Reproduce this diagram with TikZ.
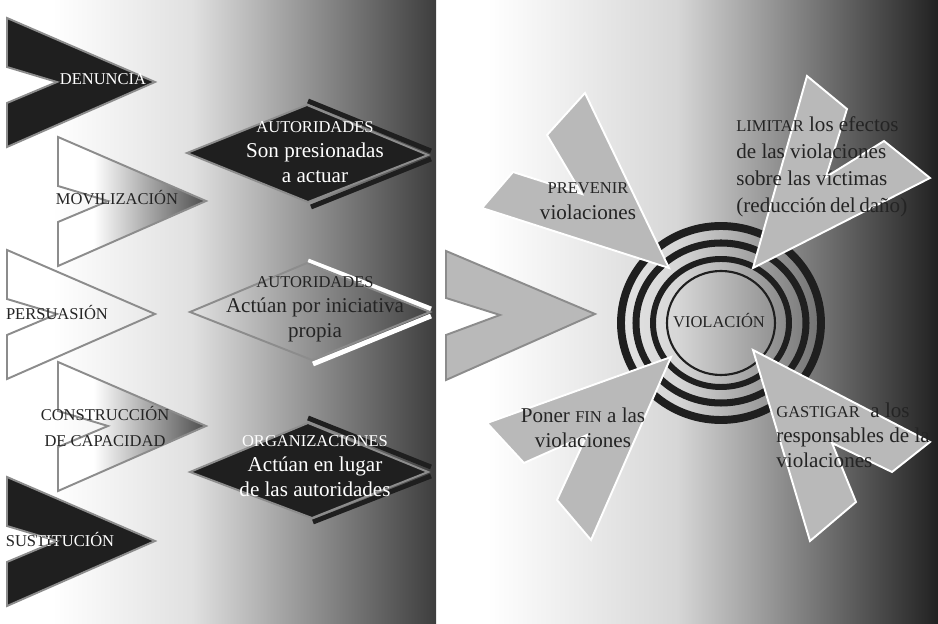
\documentclass[tikz,border=0pt]{standalone}
\usepackage{fontspec}
\setmainfont{Liberation Serif}
\definecolor{nightfill}{HTML}{1F1F1F}
\definecolor{edgegray}{HTML}{8C8C8C}
\definecolor{armgray}{HTML}{B9B9B9}
\definecolor{inkgray}{HTML}{242424}
\pgfdeclarehorizontalshading{panelleft}{100bp}{color(0bp)=(white); color(31bp)=(white); color(47bp)=(white!88!black); color(75bp)=(black!76); color(100bp)=(black!76)}
\pgfdeclarehorizontalshading{panelright}{100bp}{color(0bp)=(white); color(30bp)=(white); color(49bp)=(white!84!black); color(75bp)=(black!87); color(100bp)=(black!87)}
\pgfdeclarehorizontalshading{armshade}{100bp}{color(0bp)=(white); color(37bp)=(white); color(75bp)=(black!70); color(100bp)=(black!70)}
\newcommand{\capsm}[1]{{\fontsize{9.4}{11}\selectfont #1}}

\begin{document}
\begin{tikzpicture}[x=0.02cm, y=-0.02cm,
    chev/.style={draw=edgegray, line width=1.1pt},
    arm/.style={fill=armgray, draw=white, line width=1.1pt},
    lbl/.style={font=\fontsize{9.4}{15.3}\selectfont, inner sep=0pt, anchor=base, align=center},
    body/.style={font=\fontsize{12}{14.5}\selectfont, inner sep=0pt, anchor=base, align=center, text=inkgray},
    bar/.style={line width=2.8pt}]

    \useasboundingbox (0,0) rectangle (938,624);
    \shade[shading=panelleft] (0,0) rectangle (436,624);
    \shade[shading=panelright] (437,0) rectangle (938,624);

    \draw[chev, fill=nightfill, shift={(7,18)}] (0,0) -- (148,64) -- (0,129) -- (0,85) -- (50,64) -- (0,49) -- cycle;
    \shadedraw[chev, shading=armshade, shift={(58,137)}] (0,0) -- (148,64) -- (0,129) -- (0,85) -- (50,64) -- (0,49) -- cycle;
    \draw[chev, shift={(7,250)}] (0,0) -- (148,64) -- (0,129) -- (0,85) -- (50,64) -- (0,49) -- cycle;
    \shadedraw[chev, shading=armshade, shift={(58,362)}] (0,0) -- (148,64) -- (0,129) -- (0,85) -- (50,64) -- (0,49) -- cycle;
    \draw[chev, fill=nightfill, shift={(7,477)}] (0,0) -- (148,64) -- (0,129) -- (0,85) -- (50,64) -- (0,49) -- cycle;

    \draw[bar, nightfill] (308,101) -- (431,151);
    \draw[bar, nightfill] (311,207) -- (431,159);
    \draw[chev, fill=nightfill] (187,153) -- (307,105) -- (428,155) -- (308,202) -- cycle;

    \draw[bar, white] (308,261) -- (431,309);
    \draw[bar, white] (313,364) -- (431,316);
    \draw[chev] (190,312) -- (307,263) -- (430,312) -- (312,360) -- cycle;

    \draw[bar, nightfill] (308,418) -- (431,467);
    \draw[bar, nightfill] (313,522) -- (431,476);
    \draw[chev, fill=nightfill] (190,472) -- (308,423) -- (428,472) -- (312,518) -- cycle;

    \node[lbl, text=white] (denuncia) at (103,85) {DENUNCIA};
    \node[lbl, text=inkgray] (movil) at (117,205) {MOVILIZACIÓN};
    \node[lbl, text=inkgray] (persua) at (57,320) {PERSUASIÓN};
    \node[lbl, text=inkgray] (constru) at (105,447) {CONSTRUCCIÓN\\DE CAPACIDAD};
    \node[lbl, text=inkgray] (sustit) at (60,547) {SUSTITUCIÓN};
    \begin{scope}
        \clip[shift={(7,477)}] (0,0) -- (148,64) -- (0,129) -- (0,85) -- (50,64) -- (0,49) -- cycle;
        \node[lbl, text=white] (sustitw) at (60,547) {SUSTITUCIÓN};
    \end{scope}

    \node[body, text=white] (presion) at (315,183) {\capsm{AUTORIDADES}\\Son presionadas\\a actuar};
    \node[body] (inicia) at (315,338) {\capsm{AUTORIDADES}\\Actúan por iniciativa\\propia};
    \node[body, text=white] (lugar) at (315,497) {\capsm{ORGANIZACIONES}\\Actúan en lugar\\de las autoridades};

    \draw[chev, fill=armgray] (446,251) -- (595,314) -- (446,380) -- (446,335) -- (500,315) -- (446,298) -- cycle;

    \coordinate (viol) at (721,323);
    \draw[nightfill, line width=4.5pt] (viol) ellipse [x radius=100, y radius=97];
    \draw[nightfill, line width=4pt] (viol) ellipse [x radius=85, y radius=80];
    \draw[nightfill, line width=3.4pt] (viol) ellipse [x radius=68, y radius=64];
    \draw[nightfill, line width=1.2pt] (viol) ellipse [x radius=54, y radius=52];

    \draw[arm] (669,268) -- (585,93) -- (547,135) -- (582,194) -- (513,172) -- (482,208) -- cycle;
    \draw[arm] (753,268) -- (807,76) -- (847,109) -- (826,177) -- (884,141) -- (930,178) -- cycle;
    \draw[arm] (671,357) -- (487,423) -- (524,463) -- (587,435) -- (557,500) -- (591,540) -- cycle;
    \draw[arm] (753,350) -- (810,541) -- (856,502) -- (832,443) -- (892,472) -- (930,442) -- cycle;

    \node[lbl, text=inkgray] (violacion) at (719,328) {VIOLACIÓN};
    \node[body, font=\fontsize{12}{15.3}\selectfont] (prevenir) at (588,220) {\capsm{PREVENIR}\\violaciones};
    \node[body, font=\fontsize{12}{15.5}\selectfont, align=left, anchor=base west] (limitar) at (736,213)
        {\capsm{LIMITAR} los efectos\\de las violaciones\\sobre las víctimas\\(reducción\hspace{2pt}del\hspace{2pt}daño)};
    \node[body] (fin) at (583,448) {Poner \capsm{FIN} a las\\violaciones};
    \node[body, align=left, anchor=base west] (gastigar) at (776,468)
        {\capsm{GASTIGAR}\ \ a los\\responsables de la\\violaciones};

\end{tikzpicture}
\end{document}
